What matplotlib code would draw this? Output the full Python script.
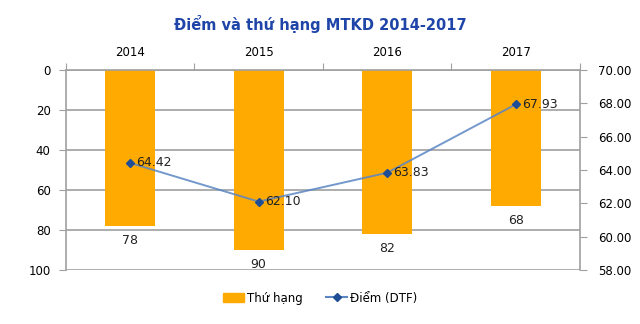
import matplotlib.pyplot as plt
from matplotlib.lines import Line2D
from matplotlib.patches import Patch

years = ["2014", "2015", "2016", "2017"]
rank = [78, 90, 82, 68]
dtf = [64.42, 62.10, 63.83, 67.93]

BAR_C = "#FFAA00"
LINE_C = "#5b86c4"
MARK_C = "#1f4e96"
GRID_C = "#a0a0a0"

fig = plt.figure(figsize=(6.4, 3.24), dpi=100)
ax = fig.add_axes([0.103, 0.167, 0.803, 0.617])
x = list(range(len(years)))

# rank bars hang from the top (inverted axis)
ax.bar(x, rank, width=0.39, color=BAR_C, zorder=2)
ax.set_ylim(100, 0)
ax.set_xlim(-0.5, len(years) - 0.5)
ax.set_yticks(range(0, 101, 20))
ax.grid(axis="y", color=GRID_C, linewidth=1.2, zorder=0)
for xi, r in zip(x, rank):
    ax.text(xi, r + 4, str(r), ha="center", va="top", fontsize=9, color="#222222")

# year labels on top, tick marks between categories
ax.xaxis.tick_top()
ax.set_xticks([i - 0.5 for i in range(len(years) + 1)])
ax.set_xticklabels([])
ax.set_xticks(x, minor=True)
ax.set_xticklabels(years, minor=True, fontsize=8.5)
ax.tick_params(axis="x", which="major", length=5, color=GRID_C, direction="out")
ax.tick_params(axis="x", which="minor", length=0, pad=8)
ax.tick_params(axis="y", length=5, color=GRID_C, labelsize=8.5, pad=6)
for s in ["left", "top"]:
    ax.spines[s].set_color(GRID_C)
    ax.spines[s].set_linewidth(1.2)
ax.spines["bottom"].set_visible(False)
ax.spines["right"].set_visible(False)

# DTF score on the secondary axis
ax2 = ax.twinx()
ax2.plot(x, dtf, color=LINE_C, linewidth=1.4, alpha=0.85, zorder=3)
ax2.plot(x, dtf, linestyle="none", marker="D", markersize=4, color=MARK_C, zorder=4)
ax2.set_ylim(58, 70)
ax2.set_yticks([58 + 2 * i for i in range(7)])
ax2.set_yticklabels([f"{v:.2f}" for v in ax2.get_yticks()])
ax2.tick_params(axis="y", length=5, color=GRID_C, labelsize=8.5, pad=8)
for s in ["left", "top", "bottom"]:
    ax2.spines[s].set_visible(False)
ax2.spines["right"].set_color(GRID_C)
ax2.spines["right"].set_linewidth(1.2)
for xi, v in zip(x, dtf):
    ax2.text(xi + 0.05, v, f"{v:.2f}", ha="left", va="center", fontsize=9, color="#222222", zorder=5)

fig.suptitle("Điểm và thứ hạng MTKD 2014-2017", y=0.955, fontsize=10.5,
             fontweight="bold", color="#1f45a8")

handles = [Patch(color=BAR_C),
           Line2D([0], [0], color=LINE_C, marker="D", markersize=4,
                  markerfacecolor=MARK_C, markeredgecolor=MARK_C)]
fig.legend(handles, ["Thứ hạng", "Điểm (DTF)"], loc="center", bbox_to_anchor=(0.5, 0.08),
           ncol=2, frameon=False, fontsize=8.5, handlelength=1.8, columnspacing=2.0,
           handletextpad=0.2)

fig.savefig("out.png", dpi=100)
